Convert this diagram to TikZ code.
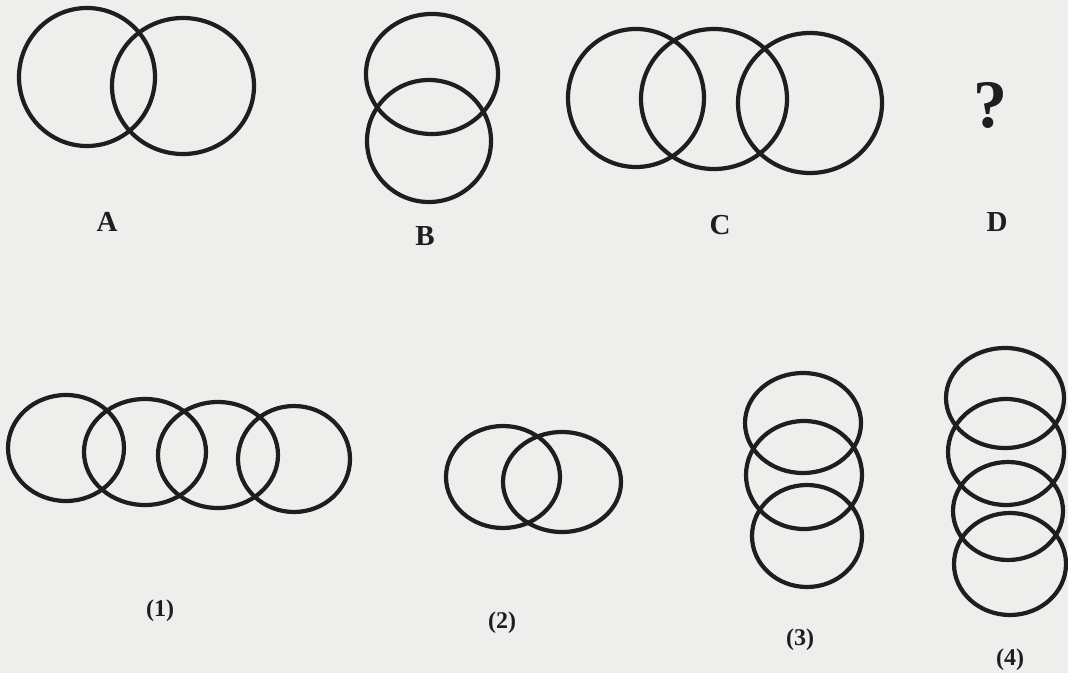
\documentclass[tikz,border=0pt]{standalone}
\usepackage{fontspec}
\setmainfont{Liberation Serif}
\definecolor{paper}{RGB}{238,238,236}
\definecolor{ink}{RGB}{30,30,30}
\tikzset{
  ring/.style={draw=ink, line width=2.1pt},
  lbl/.style={font=\bfseries\fontsize{14.5}{16}\selectfont, text=ink, inner sep=0pt},
  opt/.style={font=\bfseries\fontsize{12}{14}\selectfont, text=ink, inner sep=0pt},
}
\begin{document}
\begin{tikzpicture}[x=0.5pt,y=-0.5pt]
\fill[paper] (0,0) rectangle (1068,673);
\useasboundingbox (0,0) rectangle (1068,673);
% A
\draw[ring] (87,77) ellipse [x radius=68, y radius=69];
\draw[ring] (183,86) ellipse [x radius=71, y radius=68];
\node[lbl] (la) at (107,222) {A};
% B
\draw[ring] (432,74) ellipse [x radius=66, y radius=60];
\draw[ring] (429,141) ellipse [x radius=62, y radius=61];
\node[lbl] (lb) at (425,236) {B};
% C
\draw[ring] (636,98) ellipse [x radius=68, y radius=69];
\draw[ring] (714,99) ellipse [x radius=73, y radius=70];
\draw[ring] (810,103) ellipse [x radius=72, y radius=70];
\node[lbl] (lc) at (720,225) {C};
% D
\node[font=\bfseries\fontsize{34}{38}\selectfont, text=ink, inner sep=0pt] (q) at (990,105) {?};
\node[lbl] (ld) at (997,222) {D};
% (1)
\draw[ring] (66,448) ellipse [x radius=58, y radius=53];
\draw[ring] (145,452) ellipse [x radius=61, y radius=53];
\draw[ring] (218,455) ellipse [x radius=60, y radius=53];
\draw[ring] (294,459) ellipse [x radius=56, y radius=53];
\node[opt] (o1) at (160,611) {(1)};
% (2)
\draw[ring] (503,477) ellipse [x radius=57, y radius=51];
\draw[ring] (562,482) ellipse [x radius=59, y radius=50];
\node[opt] (o2) at (502,623) {(2)};
% (3)
\draw[ring] (803,423) ellipse [x radius=58, y radius=50];
\draw[ring] (804,475) ellipse [x radius=58, y radius=54];
\draw[ring] (807,536) ellipse [x radius=55, y radius=51];
\node[opt] (o3) at (800,640) {(3)};
% (4)
\draw[ring] (1005,398) ellipse [x radius=59, y radius=50];
\draw[ring] (1006,452) ellipse [x radius=58, y radius=53];
\draw[ring] (1008,511) ellipse [x radius=55, y radius=49];
\draw[ring] (1010,564) ellipse [x radius=56, y radius=51];
\node[opt] (o4) at (1010,660) {(4)};
\end{tikzpicture}
\end{document}
